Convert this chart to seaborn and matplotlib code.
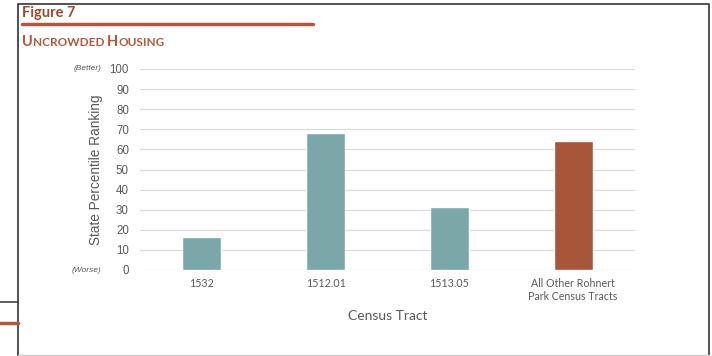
import matplotlib
matplotlib.use("Agg")
import matplotlib.pyplot as plt
import seaborn as sns

tracts = ["1532", "1512.01", "1513.05", "All Other Rohnert\nPark Census Tracts"]
ranking = [16.6, 68.0, 31.5, 64.3]
bar_colors = ["#7aa8a8", "#7aa8a8", "#7aa8a8", "#a8563a"]
y_ticks = [0, 10, 20, 30, 40, 50, 60, 70, 80, 90, 100]

accent = "#b5573a"
grey_text = "#595959"

sns.set_style("white")
plt.rcParams["font.family"] = ["Lato", "DejaVu Sans"]

fig = plt.figure(figsize=(7.12, 3.56), dpi=100)
ax = fig.add_axes([140 / 712, 1 - 270 / 356, 495 / 712, 201 / 356])

sns.barplot(x=tracts, y=ranking, hue=tracts, palette=bar_colors,
            width=0.315, legend=False, saturation=1, ax=ax)

ax.set_ylim(0, 100)
ax.set_yticks(y_ticks)
ax.set_yticklabels([str(t) for t in y_ticks], family="Liberation Sans",
                   fontsize=8.3, color=grey_text)
ax.yaxis.grid(True, color="#dcdcdc", linewidth=0.9)
ax.set_axisbelow(True)
for s in ax.spines.values():
    s.set_visible(False)
ax.tick_params(axis="y", length=0, pad=8)
ax.tick_params(axis="x", length=0, pad=6, labelsize=7.7, labelcolor=grey_text)
ax.set_xlabel("Census Tract", fontsize=10, color=grey_text, labelpad=6)
ax.set_ylabel("State Percentile Ranking", family="Liberation Sans",
              fontsize=9.8, color=grey_text, labelpad=5)

# better / worse notes next to the y ticks
fig.text(101 / 712, 1 - 69 / 356, "(Better)", fontsize=6, style="italic",
         color=grey_text, ha="right", va="center", family="Liberation Sans")
fig.text(101 / 712, 1 - 270 / 356, "(Worse)", fontsize=6, style="italic",
         color=grey_text, ha="right", va="center", family="Liberation Sans")

# frame and header decorations
frame = plt.Line2D([18 / 712, 18 / 712, 709 / 712, 709 / 712],
                   [0.0, 1 - 4 / 356, 1 - 4 / 356, 0.0],
                   transform=fig.transFigure, color="#333333", linewidth=1.2)
fig.add_artist(frame)
fig.add_artist(plt.Line2D([18 / 712, 709 / 712], [1 / 356, 1 / 356],
                          transform=fig.transFigure, color="#cccccc", linewidth=1))
fig.add_artist(plt.Line2D([0, 18 / 712], [1 - 302 / 356, 1 - 302 / 356],
                          transform=fig.transFigure, color="#444444", linewidth=1.2))
fig.add_artist(plt.Line2D([0, 18 / 712], [1 - 323 / 356, 1 - 323 / 356],
                          transform=fig.transFigure, color=accent, linewidth=2.5))
fig.add_artist(plt.Line2D([22 / 712, 313 / 712], [1 - 24 / 356, 1 - 24 / 356],
                          transform=fig.transFigure, color=accent, linewidth=2.5))

fig.text(22 / 712, 1 - 13 / 356, "Figure 7", fontsize=10.5, fontweight="bold",
         color="#9c4a30", va="center")

# small caps title
renderer = fig.canvas.get_renderer()
x = 22
for part, size in [("U", 10.5), ("NCROWDED ", 8.5), ("H", 10.5), ("OUSING", 8.5)]:
    t = fig.text(x / 712, 1 - 46 / 356, part, fontsize=size, fontweight="bold",
                 color=accent, va="baseline")
    x += t.get_window_extent(renderer).width

fig.savefig("out.png", dpi=100)
